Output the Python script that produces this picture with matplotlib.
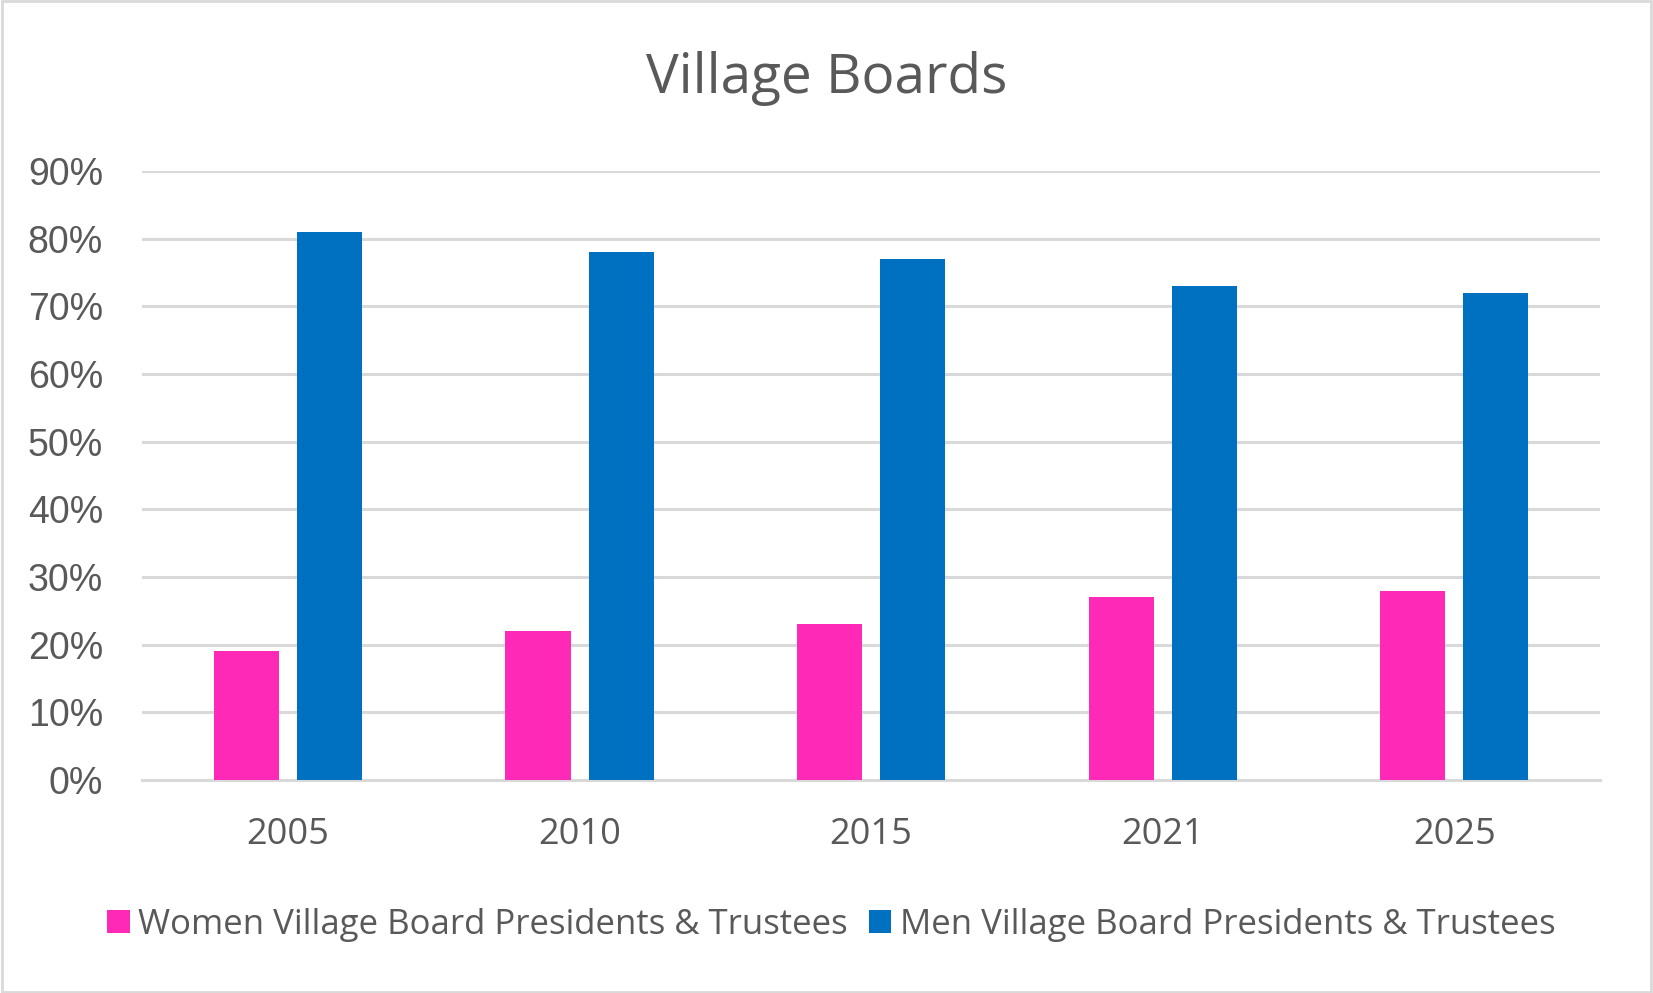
import numpy as np
import matplotlib
matplotlib.use('Agg')
import matplotlib.pyplot as plt
from matplotlib.ticker import FuncFormatter

years = ['2005', '2010', '2015', '2021', '2025']
women = [19, 22, 23, 27, 28]
men = [81, 78, 77, 73, 72]
yticks = [0, 10, 20, 30, 40, 50, 60, 70, 80, 90]

TXT = '#595959'
GRID = '#D9D9D9'

fig = plt.figure(figsize=(16.53, 9.93), dpi=100)
ax = fig.add_axes([142 / 1653, 1 - 780 / 993, (1600 - 142) / 1653, (780 - 171) / 993])

x = np.arange(len(years))
w = 0.223
ax.bar(x - 0.142, women, w, color='#FF29B8', label='Women Village Board Presidents & Trustees', zorder=3)
ax.bar(x + 0.143, men, w, color='#0070C0', label='Men Village Board Presidents & Trustees', zorder=3)

ax.set_xlim(-0.5, len(years) - 0.5)
ax.set_ylim(0, 90)
ax.set_yticks(yticks)
ax.yaxis.set_major_formatter(FuncFormatter(lambda v, p: f'{v:.0f}%'))
ax.set_xticks(x)
ax.set_xticklabels(years, fontfamily='Open Sans', fontsize=26, color=TXT)
for lab in ax.get_yticklabels():
    lab.set_fontfamily('Liberation Sans')
    lab.set_fontsize(27)
    lab.set_color(TXT)
ax.tick_params(axis='y', length=0, pad=28)
ax.tick_params(axis='x', length=0, pad=27)
ax.grid(axis='y', color=GRID, linewidth=2.2, zorder=0)
for s in ['top', 'right', 'left']:
    ax.spines[s].set_visible(False)
ax.spines['bottom'].set_color(GRID)
ax.spines['bottom'].set_linewidth(2.2)

fig.text(0.5, 1 - 78 / 993, 'Village Boards', ha='center', va='center',
         fontfamily='Open Sans', fontsize=39.5, color=TXT)

fig.legend(loc='center', bbox_to_anchor=(0.503, 1 - 925 / 993), ncol=2, frameon=False,
           prop={'family': 'Open Sans', 'size': 25}, labelcolor=TXT,
           handlelength=0.65, handleheight=0.65, handletextpad=0.25, columnspacing=0.6)

fig.patches.append(plt.Rectangle((0.001, 0.001), 0.998, 0.998, transform=fig.transFigure,
                                 fill=False, edgecolor=GRID, linewidth=2))

fig.savefig('out.png', dpi=100)
